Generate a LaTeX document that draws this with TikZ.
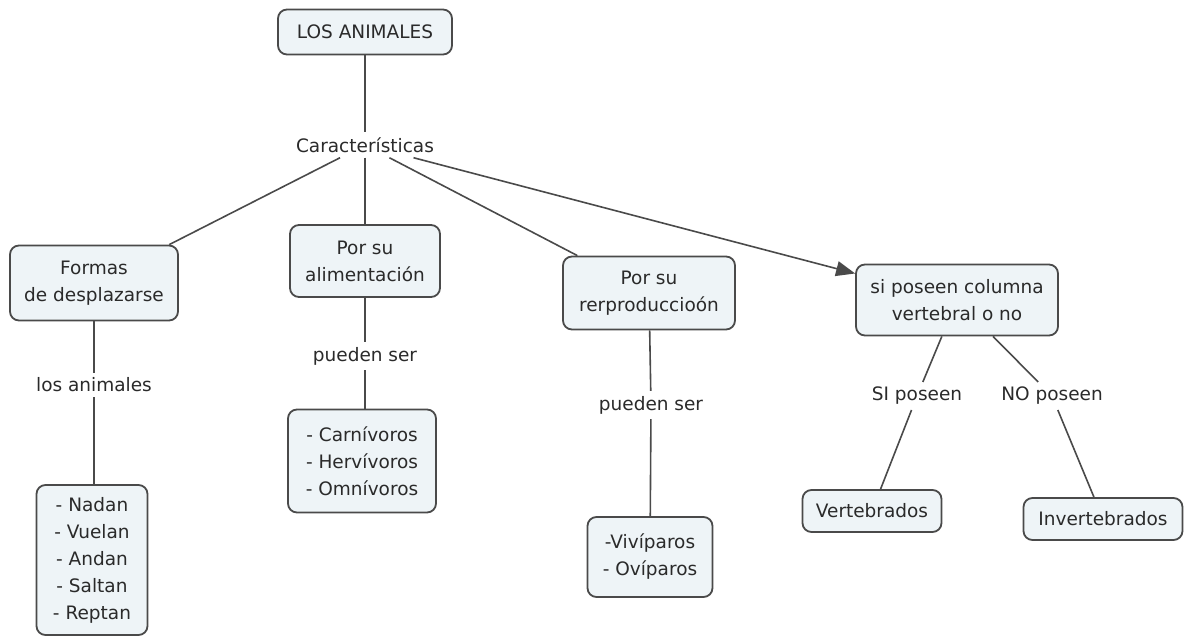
\documentclass[tikz,border=0pt]{standalone}
\usepackage{fontspec}
\setmainfont{DejaVu Sans}
\usetikzlibrary{arrows.meta,positioning}
\definecolor{boxfill}{HTML}{EEF4F7}
\definecolor{boxline}{HTML}{4A4A4A}
\definecolor{ink}{HTML}{2A2A2A}
\tikzset{concept/.style={draw=boxline, fill=boxfill, rounded corners=9pt, line width=1.8pt, align=center, text=ink, inner sep=2pt},
         linking/.style={align=center, text=ink, inner sep=5pt},
         conn/.style={draw=boxline, line width=1.6pt}}

\begin{document}
\begin{tikzpicture}[x=1pt, y=-1pt, font=\fontsize{18.5}{27}\selectfont]
    \useasboundingbox (0,0) rectangle (1185,642);

    \node[concept, minimum width=174pt, minimum height=45pt] (LA) at (365,32) {LOS ANIMALES};
    \node[linking] (CAR) at (365,145) {Características};

    \node[concept, minimum width=168pt, minimum height=75pt] (FD) at (94,283) {Formas\\de desplazarse};
    \node[concept, minimum width=150pt, minimum height=72pt] (PA) at (365,261) {Por su\\alimentación};
    \node[concept, minimum width=172pt, minimum height=73pt] (PR) at (649,293) {Por su\\rerproduccioón};
    \node[concept, minimum width=202pt, minimum height=71pt] (CV) at (957,300) {si poseen columna\\vertebral o no};

    \node[linking] (LAN) at (94,385) {los animales};
    \node[linking] (PS1) at (365,356) {pueden ser};
    \node[linking] (PS2) at (651,405) {pueden ser};
    \node[linking] (SI) at (917,396) {SI poseen};
    \node[linking] (NO) at (1052,396) {NO poseen};

    \node[concept, minimum width=111pt, minimum height=150pt] (DS) at (92,560) {- Nadan\\- Vuelan\\- Andan\\- Saltan\\- Reptan};
    \node[concept, minimum width=148pt, minimum height=103pt] (AL) at (362,461) {- Carnívoros\\- Hervívoros\\- Omnívoros};
    \node[concept, minimum width=125pt, minimum height=80pt] (RE) at (650,557) {-Vivíparos\\- Ovíparos};
    \node[concept, minimum width=139pt, minimum height=42pt] (VE) at (872,511) {Vertebrados};
    \node[concept, minimum width=159pt, minimum height=42pt] (IN) at (1103,519) {Invertebrados};

    \draw[conn] (LA) -- (CAR);
    \draw[conn] (CAR) -- (FD);
    \draw[conn] (CAR) -- (PA);
    \draw[conn] (CAR) -- (PR);
    \draw[conn, -{Triangle[length=19pt, width=15pt]}] (CAR) -- (CV);

    \draw[conn] (FD) -- (LAN);
    \draw[conn] (LAN) -- (DS.north -| LAN);
    \draw[conn] (PA) -- (PS1);
    \draw[conn] (PS1) -- (AL.north -| PS1);
    \draw[conn] (PR) -- (PS2);
    \draw[conn] (PS2) -- (RE);
    \draw[conn] (CV) -- (SI);
    \draw[conn] (CV) -- (NO);
    \draw[conn] (SI) -- (VE);
    \draw[conn] (NO) -- (IN);
  \end{tikzpicture}
\end{document}
